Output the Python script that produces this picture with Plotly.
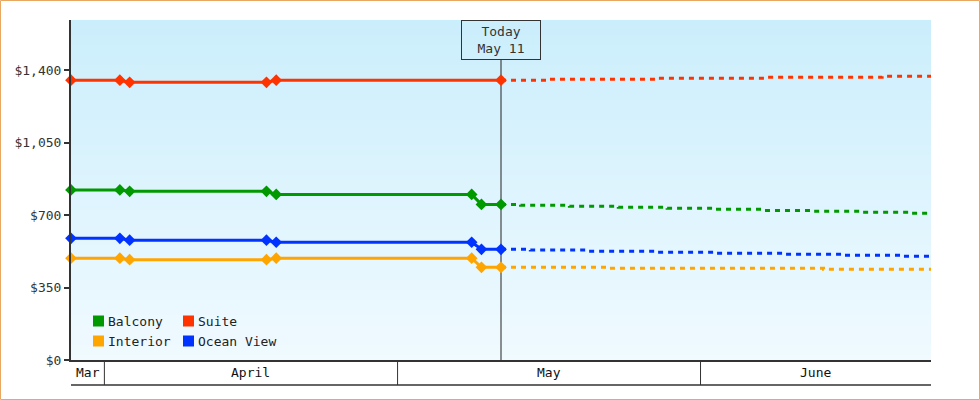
import pandas as pd
import plotly.graph_objects as go

# fare history (solid, diamonds) up to today, then forecast (dashed)
suite_dates = ["2024-03-28", "2024-04-02", "2024-04-03", "2024-04-17", "2024-04-18", "2024-05-11"]
suite_prices = [1352, 1352, 1342, 1342, 1352, 1352]

hist_dates = ["2024-03-28", "2024-04-02", "2024-04-03", "2024-04-17", "2024-04-18",
              "2024-05-08", "2024-05-09", "2024-05-11"]
balcony_prices = [822, 822, 815, 815, 800, 800, 752, 752]
ocean_view_prices = [588, 588, 579, 579, 569, 569, 535, 535]
interior_prices = [492, 492, 485, 485, 492, 492, 448, 448]

suite_fc_dates = ["2024-05-11", "2024-05-16", "2024-05-27", "2024-06-07", "2024-06-19", "2024-06-24"]
suite_fc_prices = [1352, 1357, 1362, 1366, 1371, 1371]

balcony_fc_dates = ["2024-05-11", "2024-05-13", "2024-05-18", "2024-05-23", "2024-05-28", "2024-06-02",
                    "2024-06-07", "2024-06-12", "2024-06-17", "2024-06-22", "2024-06-24"]
balcony_fc_prices = [752, 748, 743, 738, 733, 728, 723, 719, 714, 709, 709]

ocean_view_fc_dates = ["2024-05-11", "2024-05-14", "2024-05-20", "2024-05-27", "2024-06-02",
                       "2024-06-09", "2024-06-15", "2024-06-21", "2024-06-24"]
ocean_view_fc_prices = [535, 531, 526, 521, 516, 511, 506, 501, 501]

interior_fc_dates = ["2024-05-11", "2024-05-22", "2024-06-13", "2024-06-24"]
interior_fc_prices = [448, 443, 438, 438]

today = "2024-05-11"
today_label = "Today<br>May 11"

month_starts = ["2024-03-01", "2024-04-01", "2024-05-01", "2024-06-01", "2024-07-01"]
month_labels = ["Mar", "April", "May", "June"]

y_ticks = [0, 350, 700, 1050, 1400]

series = {
    "Suite": (suite_dates, suite_prices, suite_fc_dates, suite_fc_prices, "#ff3300"),
    "Balcony": (hist_dates, balcony_prices, balcony_fc_dates, balcony_fc_prices, "#009900"),
    "Ocean View": (hist_dates, ocean_view_prices, ocean_view_fc_dates, ocean_view_fc_prices, "#0033ff"),
    "Interior": (hist_dates, interior_prices, interior_fc_dates, interior_fc_prices, "#ffa500"),
}
legend_order = ["Balcony", "Suite", "Interior", "Ocean View"]

FONT = "DejaVu Sans Mono"
W, H = 980, 400
L, R, T, B = 71, 49, 20, 40
PW, PH = W - L - R, H - T - B

fig = go.Figure()

for name, (hd, hp, fd, fp, color) in series.items():
    fig.add_trace(go.Scatter(
        x=fd, y=fp, mode="lines", line_shape="hv", name=name, showlegend=False,
        line=dict(color=color, width=3, dash="5px,5px"),
    ))
    fig.add_trace(go.Scatter(
        x=hd, y=hp, mode="lines+markers", name=name, showlegend=False, cliponaxis=False,
        line=dict(color=color, width=3),
        marker=dict(symbol="diamond", size=9, color=color),
    ))

shapes = []

# plot background: vertical gradient built from thin bands
top_rgb, bot_rgb = (203, 238, 252), (240, 250, 255)
n_bands = 68
for i in range(n_bands):
    f = i / (n_bands - 1)
    c = tuple(round(top_rgb[k] + (bot_rgb[k] - top_rgb[k]) * f) for k in range(3))
    shapes.append(dict(type="rect", xref="paper", yref="paper", x0=0, x1=1,
                       y0=1 - (i + 1) / n_bands, y1=1 - i / n_bands,
                       line=dict(width=0), fillcolor="rgb(%d,%d,%d)" % c, layer="below"))

# today marker
shapes.append(dict(type="line", xref="x", yref="paper", x0=today, x1=today,
                   y0=0, y1=1 - 40 / PH, line=dict(color="#222222", width=1), layer="below"))

# month band under the x axis
x_start, x_end = pd.Timestamp("2024-03-28"), pd.Timestamp("2024-06-24")
shift = pd.Timedelta(hours=14)
starts = pd.to_datetime(month_starts)
annotations = []
band_y = -25 / PH
for i, label in enumerate(month_labels):
    a = max(starts[i] - shift, x_start)
    b = min(starts[i + 1] - shift, x_end)
    if i > 0:
        shapes.append(dict(type="line", xref="x", yref="paper", x0=a, x1=a, y0=band_y, y1=0,
                           line=dict(color="#333333", width=1)))
    annotations.append(dict(x=a + (b - a) / 2, y=band_y / 2, xref="x", yref="paper", text=label,
                            showarrow=False, xanchor="center", yanchor="middle",
                            font=dict(family=FONT, size=13, color="#111111")))
shapes.append(dict(type="line", xref="paper", yref="paper", x0=0, x1=1, y0=band_y, y1=band_y,
                   line=dict(color="#333333", width=1.5)))

# legend, two columns
for i, name in enumerate(legend_order):
    color = series[name][4]
    px_x = 93 + (i % 2) * 90
    px_y = 321 + (i // 2) * 20
    shapes.append(dict(type="rect", xref="paper", yref="paper",
                       x0=(px_x - L) / PW, x1=(px_x + 11 - L) / PW,
                       y0=(H - B - px_y - 5.5) / PH, y1=(H - B - px_y + 5.5) / PH,
                       line=dict(width=0), fillcolor=color))
    annotations.append(dict(x=(px_x + 13 - L) / PW, y=(H - B - px_y) / PH, xref="paper", yref="paper",
                            text=name, showarrow=False, xanchor="left", yanchor="middle",
                            font=dict(family=FONT, size=13, color="#222222")))

# today box
annotations.append(dict(x=today, y=1, xref="x", yref="paper", text=today_label, showarrow=False,
                        xanchor="center", yanchor="top", width=76, height=36, borderpad=1,
                        borderwidth=1, bordercolor="#333333", bgcolor="rgba(0,0,0,0)",
                        font=dict(family=FONT, size=13, color="#333333")))

# outer frame
shapes.append(dict(type="rect", xref="paper", yref="paper",
                   x0=-(L - 0.5) / PW, x1=(W - 0.5 - L) / PW,
                   y0=-(B - 0.5) / PH, y1=(PH + T - 0.5) / PH,
                   line=dict(color="#e8a862", width=1)))

fig.update_layout(
    width=W, height=H,
    margin=dict(l=L, r=R, t=T, b=B),
    paper_bgcolor="white", plot_bgcolor="white",
    font=dict(family=FONT, size=13, color="#333333"),
    showlegend=False,
    shapes=shapes, annotations=annotations,
    xaxis=dict(range=[x_start, x_end], showgrid=False, zeroline=False, showticklabels=False,
               ticks="", showline=True, linecolor="#333333", linewidth=2),
    yaxis=dict(range=[0, 1643], tickvals=y_ticks, ticktext=[f"${v:,}" for v in y_ticks],
               showgrid=False, zeroline=False, showline=True, linecolor="#333333", linewidth=2,
               ticks="outside", ticklen=5, tickwidth=2, tickcolor="#333333",
               tickfont=dict(family=FONT, size=13, color="#333333")),
)

fig.write_html("out.html", config={"displayModeBar": False},
               post_script="document.body.style.margin = '0';")
